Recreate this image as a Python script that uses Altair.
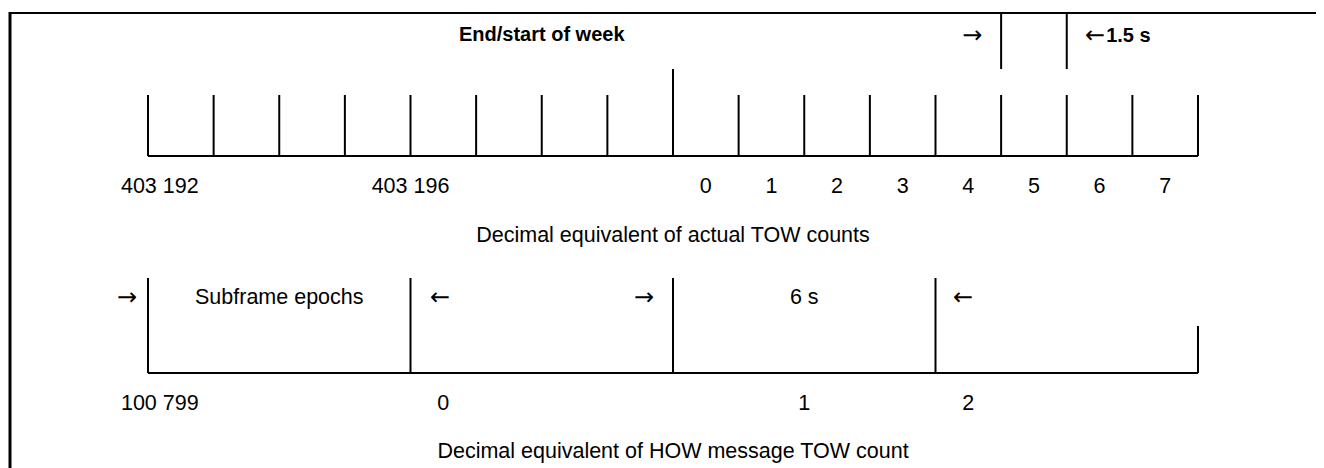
import altair as alt
import pandas as pd

# ---- data (positions in units of actual TOW counts, 1.5 s each) ----
tow_ticks = list(range(17))          # top ruler ticks
week_boundary = [8]                  # end/start of week tick
marker_ticks = [13, 14]              # 1.5 s indicator
top_label_text = ["403 192", "403 196", "0", "1", "2", "3", "4", "5", "6", "7"]
top_label_pos = [0.18, 4.0, 8.5, 9.5, 10.5, 11.5, 12.5, 13.5, 14.5, 15.5]

subframe_ticks = [0, 4, 8, 12]       # subframe epochs (6 s)
subframe_end = [16]
how_label_text = ["100 799", "0", "1", "2"]
how_label_pos = [0.18, 4.5, 10.0, 12.5]

top_annot_text = ["End/start of week"]
top_annot_pos = [6.0]
top_arrow_text = ["→", "←"]
top_arrow_pos = [12.56, 14.43]
interval_text = ["1.5 s"]
interval_pos = [14.6]

bottom_annot_text = ["Subframe epochs", "6 s"]
bottom_annot_pos = [2.0, 10.0]
bottom_arrow_text = ["→", "←", "→", "←"]
bottom_arrow_pos = [-0.32, 4.45, 7.56, 12.42]

title_text = ["Decimal equivalent of actual TOW counts",
              "Decimal equivalent of HOW message TOW count"]
title_pos = [8.0, 8.0]

FONT = "Liberation Sans"
ARROW_FONT = "DejaVu Sans"
xs = alt.Scale(domain=[0, 16], range=[138, 1188])


def X():
    return alt.X("p:Q", scale=xs, axis=None)


def df(pos, text=None):
    d = {"p": pos}
    if text is not None:
        d["t"] = text
    return pd.DataFrame(d)


def rules(pos, y, y2, sw=2):
    return alt.Chart(df(pos)).mark_rule(color="black", strokeWidth=sw).encode(
        x=X(), y=alt.value(y), y2=alt.value(y2))


def baseline(a, b, y, sw=2):
    return alt.Chart(pd.DataFrame({"a": [a], "b": [b]})).mark_rule(
        color="black", strokeWidth=sw).encode(
        x=alt.X("a:Q", scale=xs, axis=None), x2="b:Q", y=alt.value(y))


def texts(pos, text, y, size=21.5, weight="normal", align="center", font=FONT):
    return alt.Chart(df(pos, text)).mark_text(
        font=font, fontSize=size, fontWeight=weight, align=align,
        baseline="middle", color="black").encode(
        x=X(), y=alt.value(y), text="t:N")


one = pd.DataFrame({"a": [0]})
frame_top = alt.Chart(one).mark_rule(color="black", strokeWidth=2).encode(
    x=alt.value(0), x2=alt.value(1308), y=alt.value(5))
frame_left = alt.Chart(one).mark_rule(color="black", strokeWidth=3).encode(
    x=alt.value(0), y=alt.value(4), y2=alt.value(460))

layers = [
    frame_top, frame_left,
    # top ruler
    rules(marker_ticks, 5, 61),
    rules(tow_ticks, 87, 148),
    rules(week_boundary, 61, 148),
    baseline(tow_ticks[0], tow_ticks[-1], 148),
    texts(top_annot_pos, top_annot_text, 27, size=20, weight="bold"),
    texts(top_arrow_pos, top_arrow_text, 28, size=24, font=ARROW_FONT),
    texts(interval_pos, interval_text, 28, size=20, weight="bold", align="left"),
    texts(top_label_pos, top_label_text, 179),
    texts(title_pos[:1], title_text[:1], 228),
    # bottom ruler
    rules(subframe_ticks, 270, 365),
    rules(subframe_end, 318, 365),
    baseline(subframe_ticks[0], subframe_end[0], 365),
    texts(bottom_annot_pos, bottom_annot_text, 290),
    texts(bottom_arrow_pos, bottom_arrow_text, 290, size=24, font=ARROW_FONT),
    texts(how_label_pos, how_label_text, 396),
    texts(title_pos[1:], title_text[1:], 444),
]

chart = alt.layer(*layers).properties(
    width=1308, height=460,
    autosize=alt.AutoSizeParams(type="fit", contains="padding"),
    padding=0,
    background="white",
).configure_view(stroke=None)

chart.save("out.html", embed_options={"renderer": "svg", "actions": False})
